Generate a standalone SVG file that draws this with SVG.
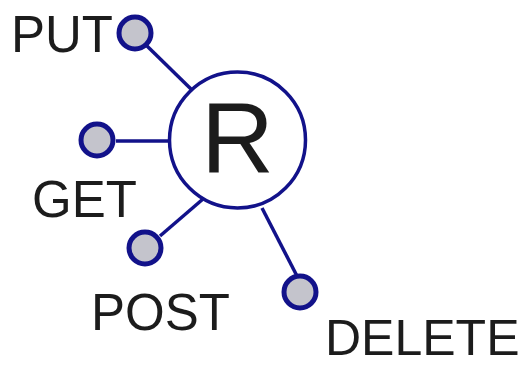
<svg xmlns="http://www.w3.org/2000/svg" width="529" height="366" viewBox="0 0 529 366">
<style>
.edge{stroke:#12128a;stroke-width:3.5;fill:none}
.port{fill:#c4c4cc;stroke:#12128a;stroke-width:5}
.hub{fill:#fff;stroke:#12128a;stroke-width:3.5}
.lbl{font-family:"Liberation Sans",Arial,sans-serif;font-size:51px;fill:#1c1c1c}
</style>
<rect width="529" height="366" fill="#fff"/>
<g id="connectors">
<line class="edge" x1="147" y1="46" x2="192" y2="90"/>
<line class="edge" x1="116" y1="141" x2="170" y2="141"/>
<line class="edge" x1="160" y1="236" x2="203" y2="199"/>
<line class="edge" x1="262" y1="208" x2="297" y2="276"/>
</g>
<g id="R">
<circle class="hub" cx="237.5" cy="140" r="68"/>
<text x="201" y="173" style="font-family:'Liberation Sans',Arial,sans-serif;font-size:101px;fill:#1c1c1c">R</text>
</g>
<g id="PUT">
<circle class="port" cx="135" cy="33" r="16"/>
<text class="lbl" x="11" y="52">PUT</text>
</g>
<g id="GET">
<circle class="port" cx="97" cy="140" r="16"/>
<text class="lbl" x="32" y="217">GET</text>
</g>
<g id="POST">
<circle class="port" cx="145" cy="248" r="16"/>
<text class="lbl" x="91" y="330">POST</text>
</g>
<g id="DELETE">
<circle class="port" cx="300" cy="292" r="16"/>
<text class="lbl" x="325" y="355" style="font-size:50px">DELETE</text>
</g>
</svg>
